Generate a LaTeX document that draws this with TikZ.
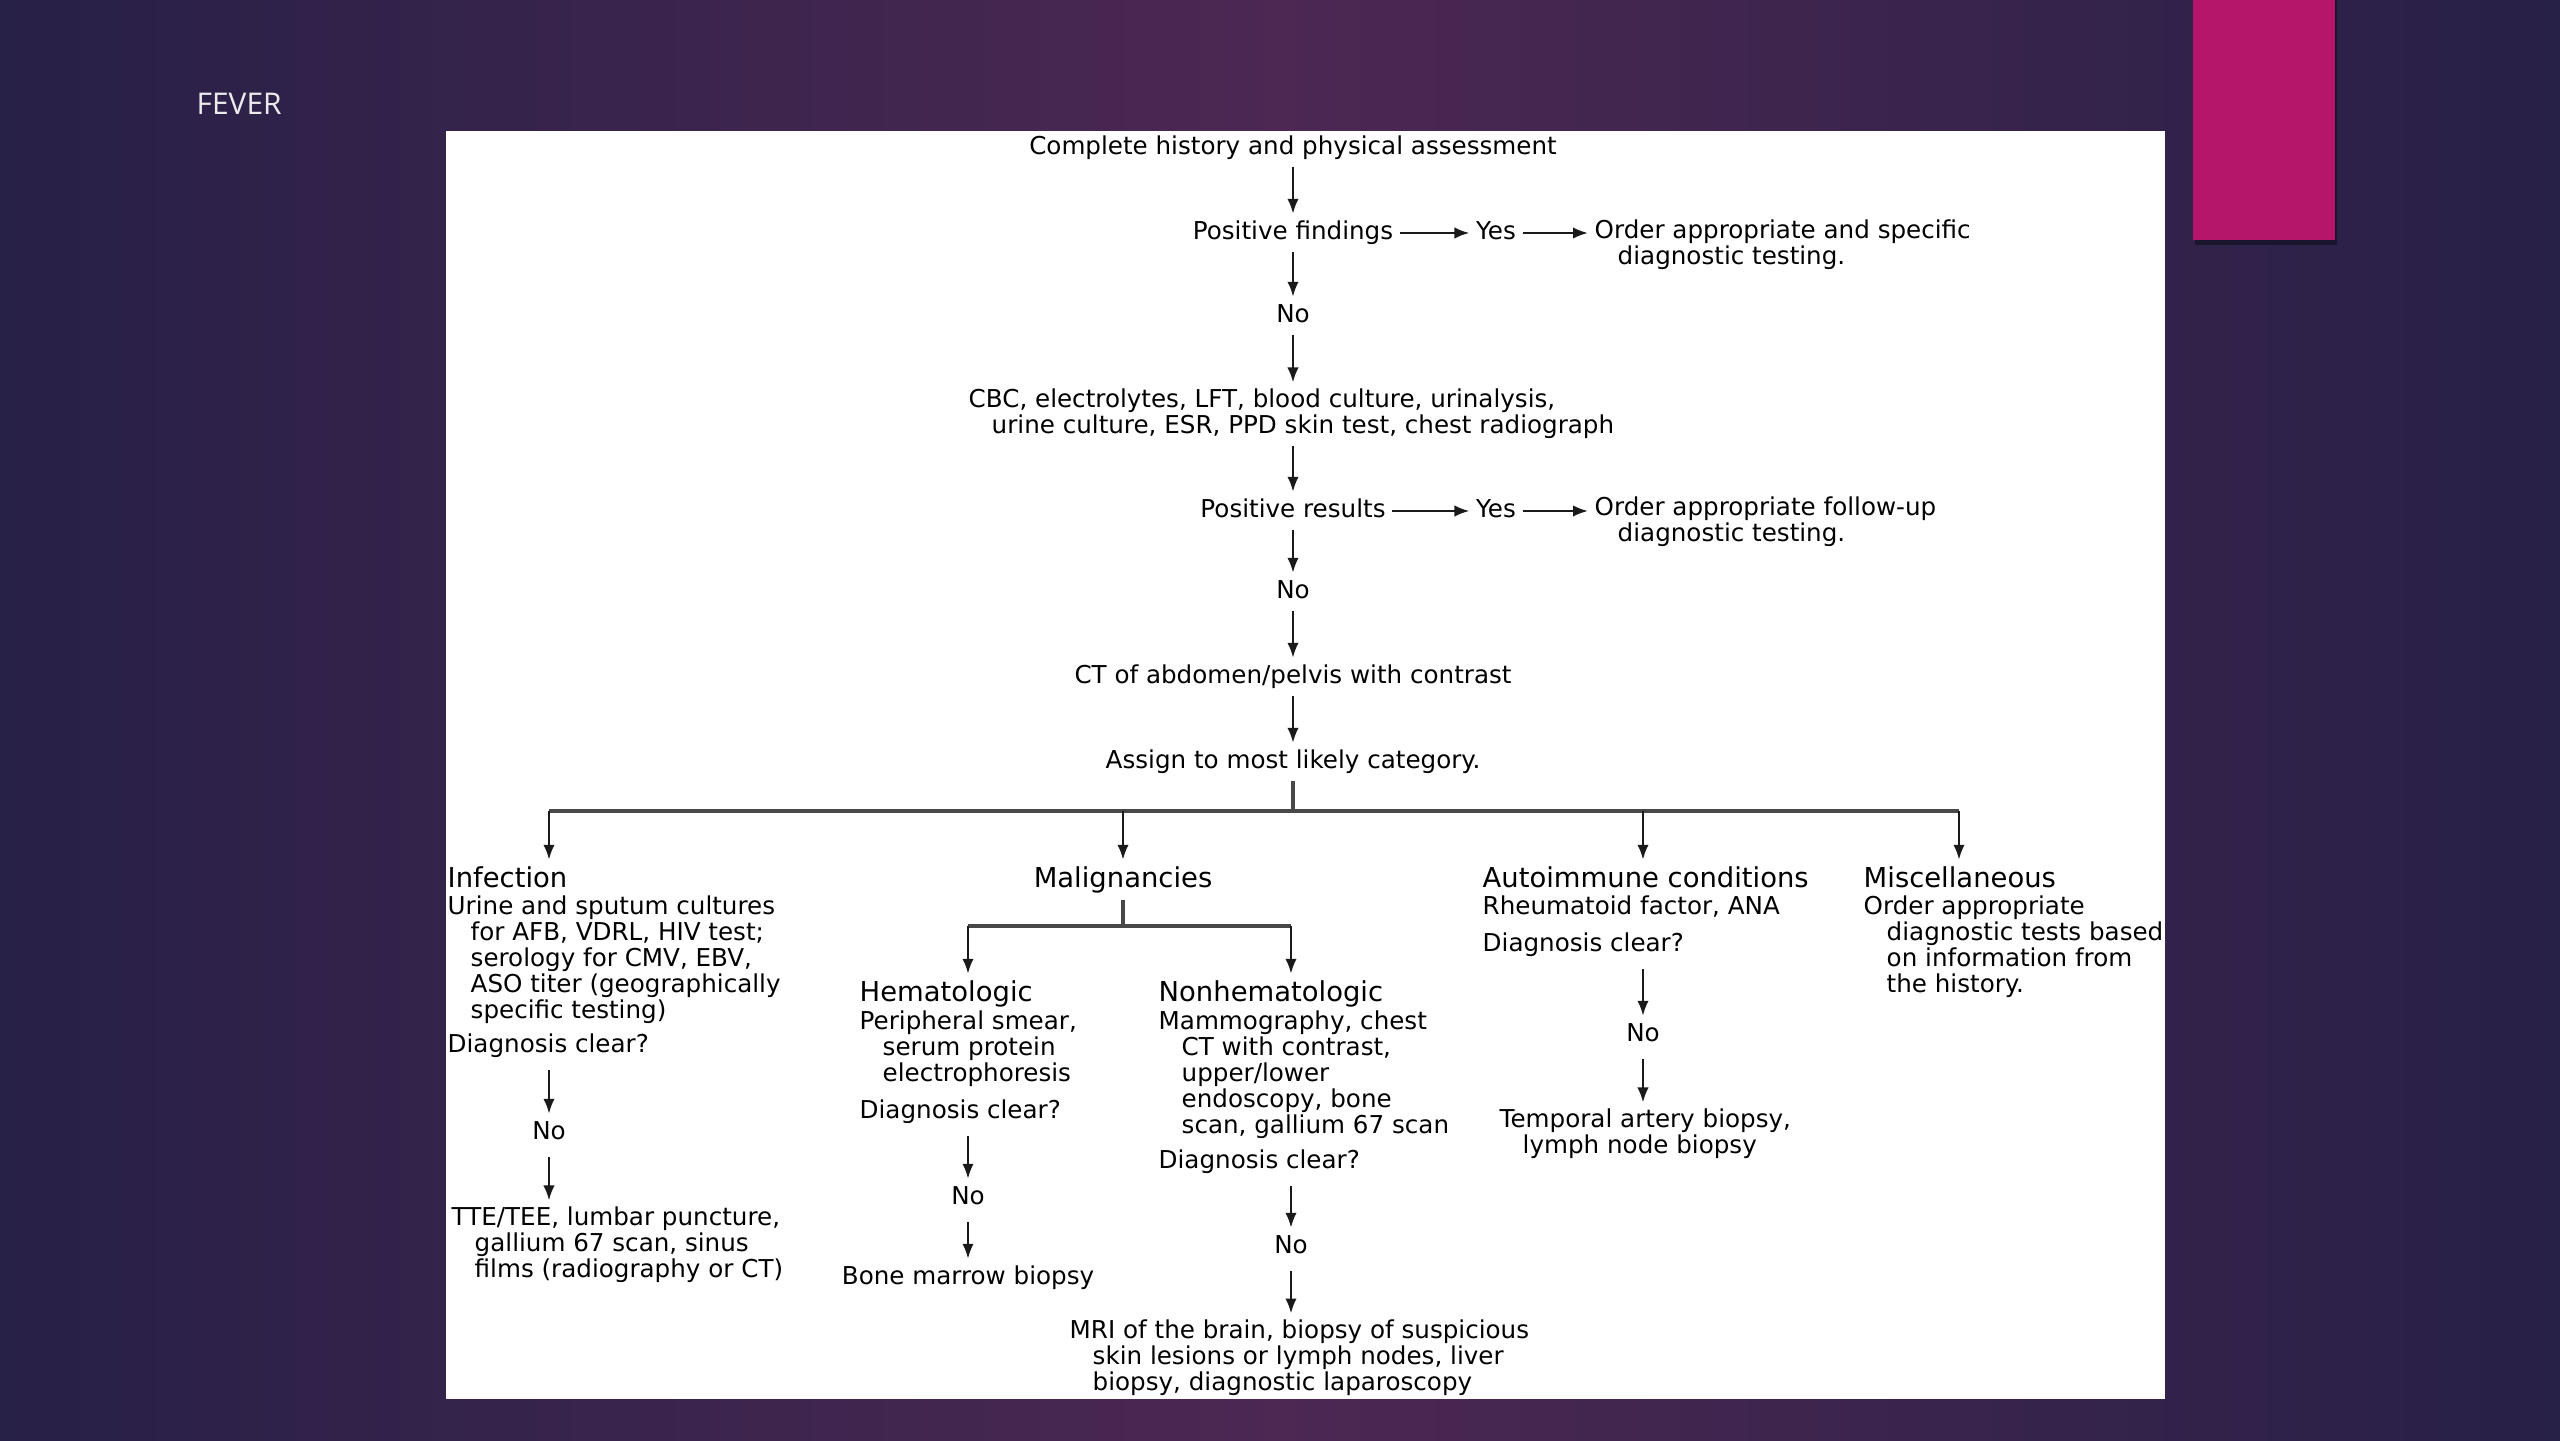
\documentclass[tikz,border=0pt]{standalone}
\usepackage{fontspec}
\setmainfont{DejaVu Sans}
\newfontfamily\slidefont{Open Sans}
\usepackage{xcolor}
\usepackage{tikz}
\usetikzlibrary{positioning,arrows.meta}
\definecolor{SlideDark}{HTML}{272047}
\definecolor{SlideMid}{HTML}{4C2853}
\definecolor{SlidePink}{HTML}{B5166A}
\definecolor{LineGray}{HTML}{1A1A1A}
\newcommand{\indt}{\hspace*{0.23cm}}

\begin{document}
\begin{tikzpicture}
	\tikzset{
		t/.style={font=\fontsize{7}{7.4}\selectfont, inner sep=0.6mm,
			text height=1.9mm, text depth=0.6mm, yshift=-0.3mm},
		tb/.style={font=\fontsize{7}{7.4}\selectfont, inner sep=0.6mm,
			align=left, anchor=north west, yshift=-0.3mm},
		hd/.style={font=\fontsize{7.8}{9}\selectfont, inner sep=0.6mm,
			text height=2.1mm, text depth=0.6mm, anchor=west, yshift=-0.3mm},
		ar/.style={draw=LineGray, line width=0.7pt, -{Latex[length=1.5mm,width=1.15mm]}},
		ar2/.style={ar, shorten <=0.5mm},
		br/.style={draw=LineGray!80, line width=0.9pt}
	}
	\useasboundingbox (0,0) rectangle (25.6,14.4);
	
	% slide
	\shade[left color=SlideDark, right color=SlideDark, middle color=SlideMid] (0,0) rectangle (25.6,14.4);
	\fill[black!35!SlideDark] (21.95,11.95) rectangle (23.37,14.4);
	\fill[SlidePink] (21.93,12.0) rectangle (23.35,14.4);
	\node[anchor=west, font=\slidefont\fontsize{8.5}{10}\selectfont, text=white!90!SlideMid, inner sep=0pt] (title) at (1.96,13.36) {FEVER};
	\fill[white] (4.46,0.41) rectangle (21.65,13.09);
	
	% main column
	\node[t] (hist) at (12.93,12.95) {Complete history and physical assessment};
	\node[t] (pf) at (12.93,12.10) {Positive findings};
	\node[t] (yes1) at (14.96,12.10) {Yes};
	\node[tb] (ord1) at (15.88,12.30) {Order appropriate and specific\\\indt diagnostic testing.};
	\node[t] (no1) at (12.93,11.27) {No};
	\node[tb] (cbc) at (9.62,10.605) {CBC, electrolytes, LFT, blood culture, urinalysis,\\\indt urine culture, ESR, PPD skin test, chest radiograph};
	\node[t] (pr) at (12.93,9.32) {Positive results};
	\node[t] (yes2) at (14.96,9.32) {Yes};
	\node[tb] (ord2) at (15.88,9.525) {Order appropriate follow-up\\\indt diagnostic testing.};
	\node[t] (no2) at (12.93,8.51) {No};
	\node[t] (ct) at (12.93,7.66) {CT of abdomen/pelvis with contrast};
	\node[t] (asg) at (12.93,6.81) {Assign to most likely category.};
	
	\draw[ar] (hist) -- (pf);
	\draw[ar] (pf) -- (yes1);
	\draw[ar] (yes1) -- (yes1 -| ord1.west);
	\draw[ar] (pf) -- (no1);
	\draw[ar] (no1) -- (no1 |- cbc.north);
	\draw[ar] (pr |- cbc.south) -- (pr);
	\draw[ar] (pr) -- (yes2);
	\draw[ar] (yes2) -- (yes2 -| ord2.west);
	\draw[ar] (pr) -- (no2);
	\draw[ar] (no2) -- (ct);
	\draw[ar] (ct) -- (asg);
	
	% categories
	\coordinate (j) at (12.93,6.29);
	\coordinate (b1) at (5.49,6.29);
	\coordinate (b2) at (11.23,6.29);
	\coordinate (b3) at (16.43,6.29);
	\coordinate (b4) at (19.59,6.29);
	
	\node[hd] (infh) at (4.41,5.63) {Infection};
	\node[hd, anchor=center] (malh) at (11.23,5.63) {Malignancies};
	\node[hd] (auth) at (14.76,5.63) {Autoimmune conditions};
	\node[hd] (misch) at (18.57,5.63) {Miscellaneous};
	
	\draw[br] (asg) -- (j);
	\draw[br] (b1) -- (b4);
	\draw[ar] (b1) -- (b1 |- infh.north);
	\draw[ar] (b2) -- (malh);
	\draw[ar] (b3) -- (b3 |- auth.north);
	\draw[ar] (b4) -- (b4 |- misch.north);
	
	% infection
	\node[tb] (infb) at (4.41,5.535) {Urine and sputum cultures\\\indt for AFB, VDRL, HIV test;\\\indt serology for CMV, EBV,\\\indt ASO titer (geographically\\\indt specific testing)};
	\node[t, anchor=west] (infq) at (4.41,3.97) {Diagnosis clear?};
	\node[t] (infno) at (5.49,3.10) {No};
	\node[tb] (infr) at (4.45,2.425) {TTE/TEE, lumbar puncture,\\\indt gallium 67 scan, sinus\\\indt films (radiography or CT)};
	\draw[ar2] (infno |- infq.south) -- (infno);
	\draw[ar2] (infno) -- (infno |- infr.north);
	
	% malignancies
	\coordinate (m0) at (11.23,5.14);
	\coordinate (m1) at (9.68,5.14);
	\coordinate (m2) at (12.91,5.14);
	\draw[br] (malh) -- (m0);
	\draw[br] (m1) -- (m2);
	
	\node[hd] (hemh) at (8.53,4.49) {Hematologic};
	\node[tb] (hemb) at (8.53,4.385) {Peripheral smear,\\\indt serum protein\\\indt electrophoresis};
	\node[t, anchor=west] (hemq) at (8.53,3.31) {Diagnosis clear?};
	\node[t] (hemno) at (9.68,2.45) {No};
	\node[t] (hemr) at (9.68,1.65) {Bone marrow biopsy};
	\draw[ar] (m1) -- (m1 |- hemh.north);
	\draw[ar2] (hemno |- hemq.south) -- (hemno);
	\draw[ar2] (hemno) -- (hemr);
	
	\node[hd] (nonh) at (11.52,4.49) {Nonhematologic};
	\node[tb] (nonb) at (11.52,4.385) {Mammography, chest\\\indt CT with contrast,\\\indt upper/lower\\\indt endoscopy, bone\\\indt scan, gallium 67 scan};
	\node[t, anchor=west] (nonq) at (11.52,2.81) {Diagnosis clear?};
	\node[t] (nonno) at (12.91,1.96) {No};
	\node[tb] (nonr) at (10.63,1.295) {MRI of the brain, biopsy of suspicious\\\indt skin lesions or lymph nodes, liver\\\indt biopsy, diagnostic laparoscopy};
	\draw[ar] (m2) -- (m2 |- nonh.north);
	\draw[ar2] (nonno |- nonq.south) -- (nonno);
	\draw[ar2] (nonno) -- (nonno |- nonr.north);
	
	% autoimmune
	\node[t, anchor=west] (autb) at (14.76,5.35) {Rheumatoid factor, ANA};
	\node[t, anchor=west] (autq) at (14.76,4.98) {Diagnosis clear?};
	\node[t] (autno) at (16.43,4.08) {No};
	\node[tb] (autr) at (14.93,3.405) {Temporal artery biopsy,\\\indt lymph node biopsy};
	\draw[ar2] (autno |- autq.south) -- (autno);
	\draw[ar2] (autno) -- (autno |- autr.north);
	
	% miscellaneous
	\node[tb] (miscb) at (18.57,5.535) {Order appropriate\\\indt diagnostic tests based\\\indt on information from\\\indt the history.};
\end{tikzpicture}
\end{document}
